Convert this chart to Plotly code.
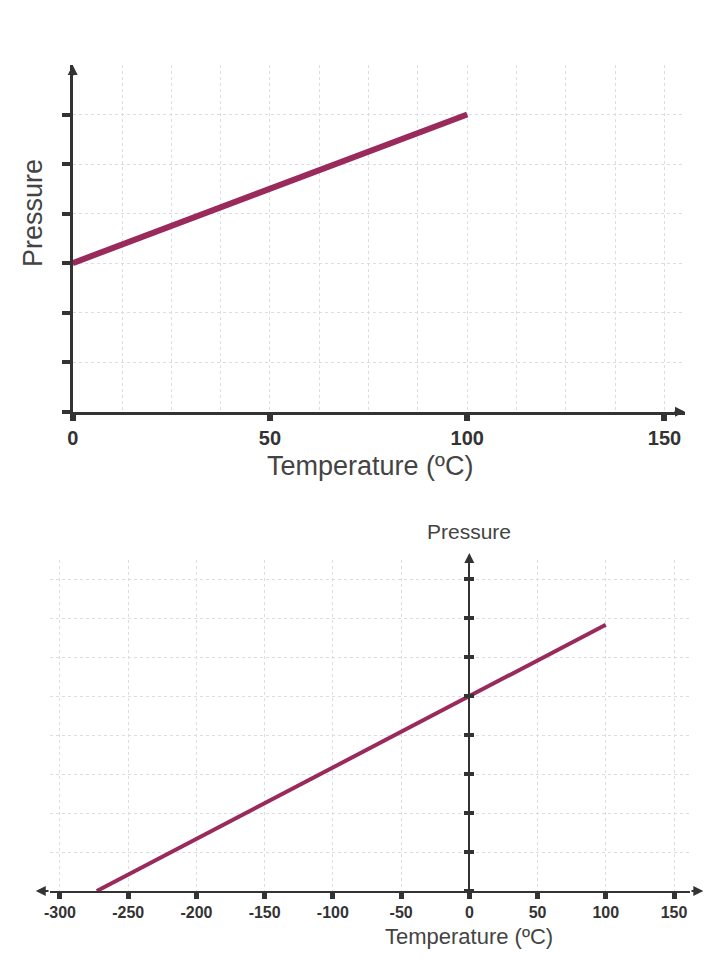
import plotly.graph_objects as go

# top chart: pressure vs temperature in Celsius, starting at 0 ºC
top_temp = [0, 100]
top_pressure = [3, 6]
top_xticks = [0, 50, 100, 150]
top_yticks = [0, 1, 2, 3, 4, 5, 6]

# bottom chart: same line extrapolated back to absolute zero
bottom_temp = [-273, 100]
bottom_pressure = [0, 6.83]
bottom_xticks = [-300, -250, -200, -150, -100, -50, 0, 50, 100, 150]
bottom_yticks = [0, 1, 2, 3, 4, 5, 6, 7, 8]

LINE = "#9a2a5c"
AXIS = "#333333"
GRID = "#dcdce4"
TEXT = "#444444"
FONT = "Liberation Sans, Arial, sans-serif"

W, H = 720, 960
OFF = 8  # page body margin around the plot div


def px_x(px):
    return (px - OFF) / W


def px_y(py):
    return (H - (py - OFF)) / H


top_xrange = [0, 155.2]
top_yrange = [0, 7]
bot_xrange = [-307.3, 161.7]
bot_yrange = [0, 8.49]
bot_xdomain = [px_x(50), px_x(690)]
# y axis of the bottom chart sits at temperature 0
bot_ypos = bot_xdomain[0] + (0 - bot_xrange[0]) / (bot_xrange[1] - bot_xrange[0]) * (bot_xdomain[1] - bot_xdomain[0])

fig = go.Figure()
fig.add_trace(go.Scatter(x=top_temp, y=top_pressure, mode="lines",
                         line=dict(color=LINE, width=6), xaxis="x", yaxis="y",
                         showlegend=False, hoverinfo="skip"))
fig.add_trace(go.Scatter(x=bottom_temp, y=bottom_pressure, mode="lines",
                         line=dict(color=LINE, width=4), xaxis="x2", yaxis="y2",
                         showlegend=False, hoverinfo="skip"))
# invisible copy so the overlaid tick axis gets drawn
fig.add_trace(go.Scatter(x=bottom_temp, y=bottom_pressure, mode="lines",
                         line=dict(color=LINE, width=0), opacity=0, xaxis="x2", yaxis="y3",
                         showlegend=False, hoverinfo="skip"))

grid_common = dict(showgrid=True, gridcolor=GRID, gridwidth=1, griddash="dot", zeroline=False)

fig.update_layout(
    width=W, height=H,
    margin=dict(l=0, r=0, t=0, b=0),
    paper_bgcolor="white", plot_bgcolor="white",
    font=dict(family=FONT, color=AXIS),
    xaxis=dict(domain=[px_x(72.7), px_x(685)], range=top_xrange, anchor="y",
               tickvals=top_xticks, ticks="outside", ticklen=7, tickwidth=6, tickcolor=AXIS,
               showline=True, linecolor=AXIS, linewidth=2.5, automargin=False,
               tickfont=dict(size=20, weight="bold", color=AXIS),
               minor=dict(dtick=12.5, tick0=0, showgrid=True, gridcolor=GRID, griddash="dot", ticks=""),
               **grid_common),
    yaxis=dict(domain=[px_y(411.7), px_y(65)], range=top_yrange, anchor="x",
               tickvals=top_yticks, ticks="outside", ticklen=8, tickwidth=4, tickcolor=AXIS,
               showticklabels=False, showline=True, linecolor=AXIS, linewidth=2.5, automargin=False,
               **grid_common),
    xaxis2=dict(domain=bot_xdomain, range=bot_xrange, anchor="y2",
                tickvals=bottom_xticks, ticktext=[str(v) for v in bottom_xticks],
                ticks="outside", ticklen=6, tickwidth=5, tickcolor=AXIS,
                showline=True, linecolor=AXIS, linewidth=2, automargin=False,
                tickfont=dict(size=16, weight="bold", color=AXIS),
                **grid_common),
    yaxis2=dict(domain=[px_y(891), px_y(560)], range=bot_yrange,
                anchor="free", position=bot_ypos, side="left",
                tickvals=bottom_yticks, ticks="outside", ticklen=4, tickwidth=4, tickcolor=AXIS,
                showticklabels=False, showline=True, linecolor=AXIS, linewidth=2, automargin=False,
                **grid_common),
    yaxis3=dict(overlaying="y2", range=bot_yrange, anchor="free", position=bot_ypos, side="right",
                tickvals=bottom_yticks, ticks="outside", ticklen=4, tickwidth=4, tickcolor=AXIS,
                showticklabels=False, showline=False, showgrid=False, zeroline=False),
)

arrow = dict(text="", showarrow=True, arrowhead=2, arrowsize=1, arrowwidth=2, arrowcolor=AXIS)
fig.add_annotation(xref="x domain", yref="y domain", x=0, y=1, ax=0, ay=12, **arrow)
fig.add_annotation(xref="x domain", yref="y domain", x=1, y=0, ax=-12, ay=0, **arrow)
fig.add_annotation(xref="x2 domain", yref="y2 domain", x=-0.0223, y=0,
                   axref="x2 domain", ayref="y2 domain", ax=0, ay=0, **arrow)
fig.add_annotation(xref="x2 domain", yref="y2 domain", x=1.0208, y=0,
                   axref="x2 domain", ayref="y2 domain", ax=1, ay=0, **arrow)
fig.add_annotation(xref="x2", yref="y2 domain", x=0, y=1.021,
                   axref="x2", ayref="y2 domain", ax=0, ay=1, **arrow)

title = dict(showarrow=False, xanchor="center", yanchor="middle")
fig.add_annotation(xref="paper", yref="paper", x=px_x(370), y=px_y(466),
                   text="Temperature (ºC)", font=dict(size=27, family=FONT, color=TEXT), **title)
fig.add_annotation(xref="paper", yref="paper", x=px_x(33), y=px_y(213),
                   text="Pressure", textangle=-90, font=dict(size=27, family=FONT, color=TEXT), **title)
fig.add_annotation(xref="x2", yref="paper", x=0, y=px_y(531),
                   text="Pressure", font=dict(size=21, family=FONT, color=TEXT), **title)
fig.add_annotation(xref="x2", yref="paper", x=0, y=px_y(936),
                   text="Temperature (ºC)", font=dict(size=22, family=FONT, color=TEXT), **title)

fig.write_html("out.html")
